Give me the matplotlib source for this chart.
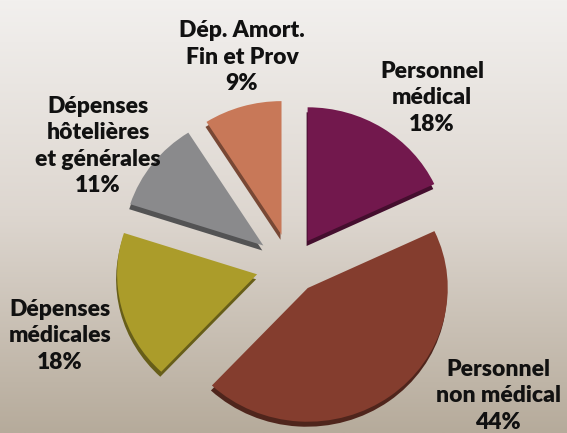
import numpy as np
import matplotlib.pyplot as plt
from matplotlib.colors import LinearSegmentedColormap, to_rgb

# parts du budget (sens horaire depuis midi)
labels = ["Personnel\nmédical", "Personnel\nnon médical", "Dépenses\nmédicales",
          "Dépenses\nhôtelières\net générales", "Dép. Amort.\nFin et Prov"]
values = [18, 44, 18, 11, 9]
colors = ["#72184d", "#843d2e", "#ab9c2a", "#8a8a8c", "#c87858"]
explode = [31, 28.5, 35, 35, 34]  # décalage des parts, en pixels

# position des étiquettes (en pixels)
label_pos = [(432, 98), (498, 396), (60, 336), (98, 146), (242, 57)]

W, H = 567, 433
k = 0.955  # écrasement vertical (effet 3D)

fig = plt.figure(figsize=(W / 100, H / 100), dpi=100)
ax = fig.add_axes([0, 0, 1, 1])

# fond dégradé
bg = LinearSegmentedColormap.from_list("bg", ["#f2f0ee", "#ddd6cf", "#b6ab9b"])
grad = np.linspace(0, 1, 256).reshape(-1, 1)
ax.imshow(grad, cmap=bg, extent=[0, W, -H / k, 0], aspect="auto", zorder=0)

cx, cy, r = 291, 266, 140
side = [tuple(c * 0.6 for c in to_rgb(col)) for col in colors]

# épaisseur du camembert
ax.pie(values, colors=side, explode=explode, startangle=90, counterclock=False,
       center=(cx - 1, -(cy + 5) / k), radius=r, frame=True,
       wedgeprops=dict(linewidth=0))
ax.pie(values, colors=colors, explode=explode, startangle=90, counterclock=False,
       center=(cx, -cy / k), radius=r, frame=True,
       wedgeprops=dict(linewidth=0))

ax.set_aspect("auto")
ax.set_xlim(0, W)
ax.set_ylim(-H / k, 0)
ax.axis("off")

for lab, v, (x, y) in zip(labels, values, label_pos):
    ax.text(x, -y / k, f"{lab}\n{v}%", ha="center", va="center",
            fontsize=16.5, fontweight="heavy", family="Lato",
            linespacing=1.3, color="#111111")

plt.savefig("out.png", dpi=100)
